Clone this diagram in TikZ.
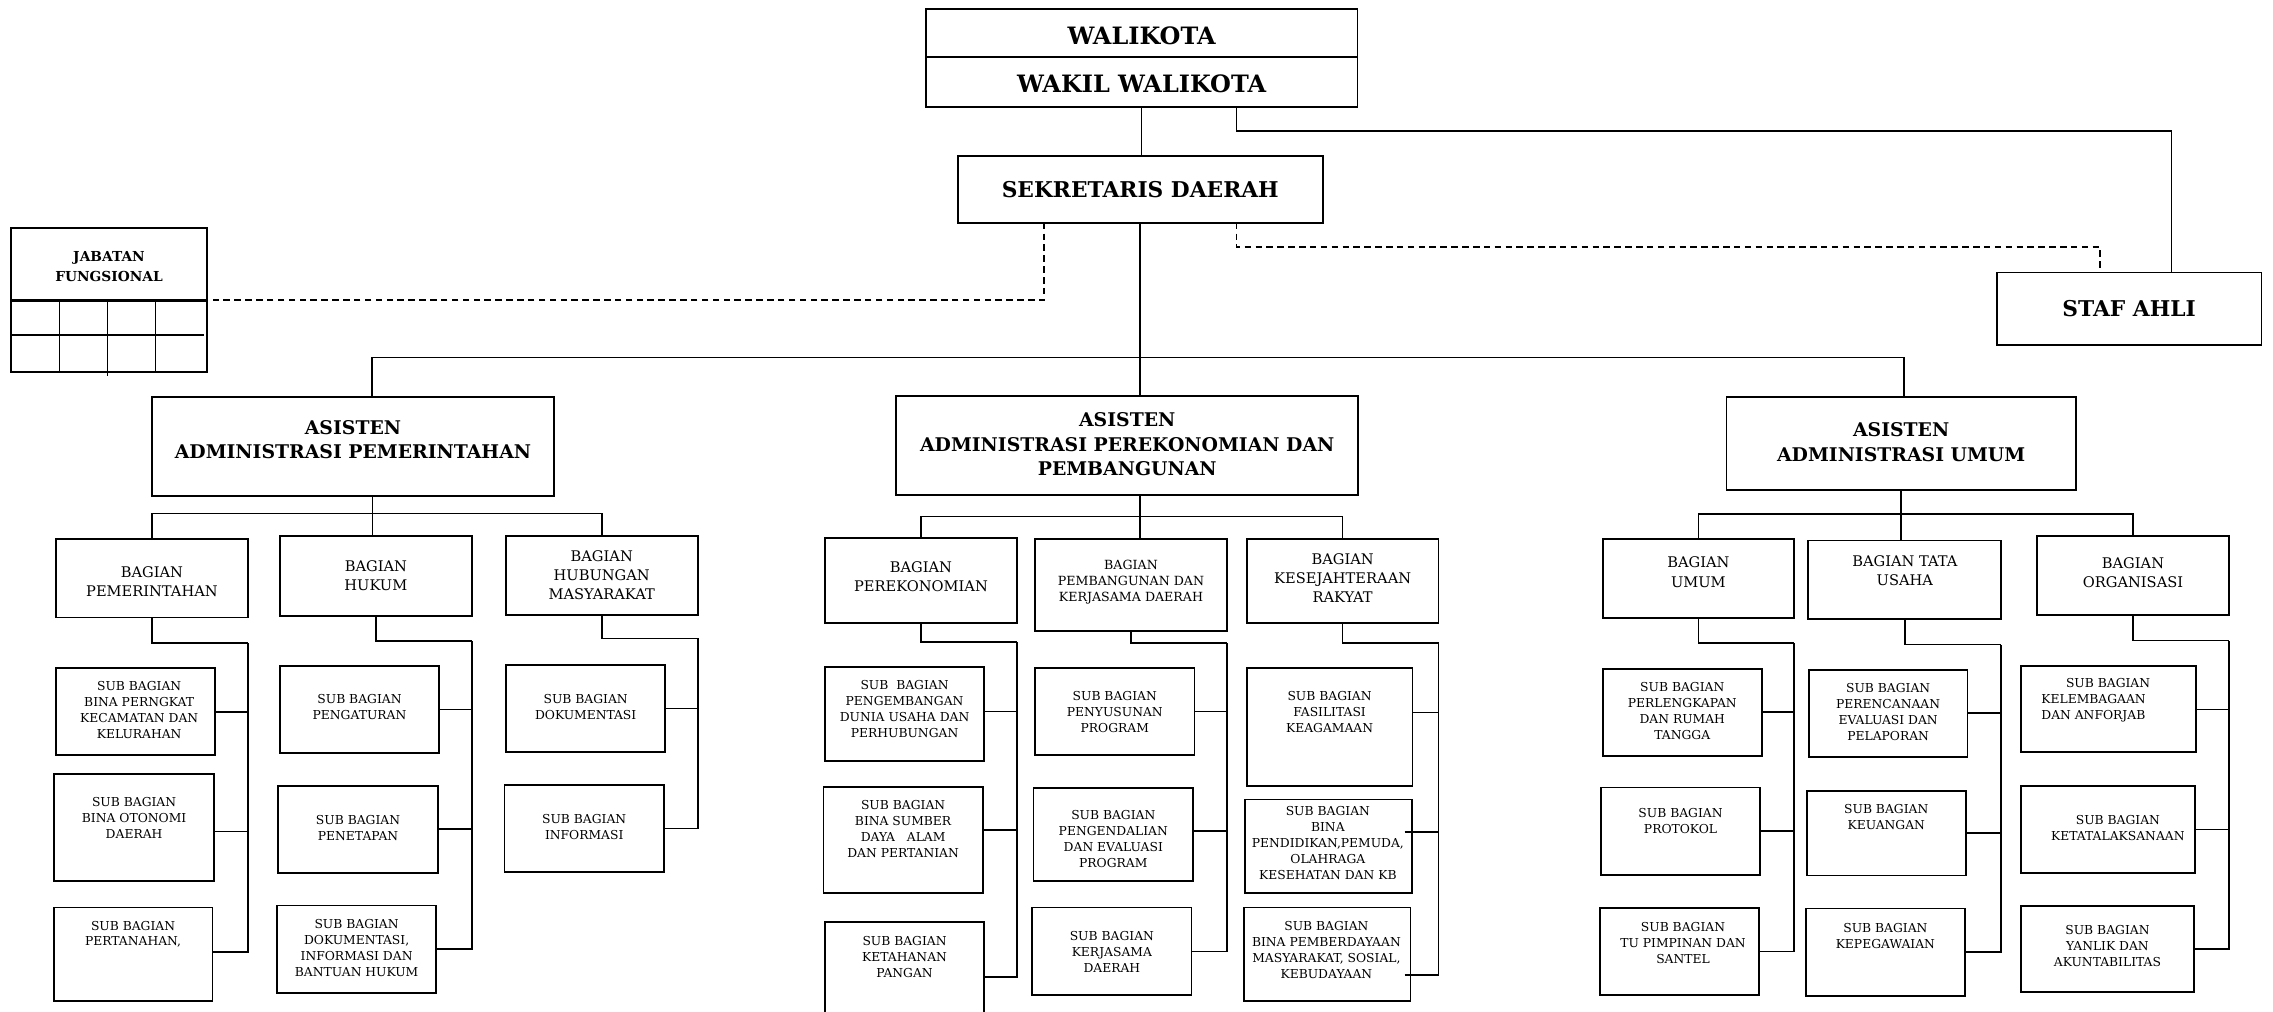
\documentclass[tikz,border=0pt]{standalone}
\usepackage{fontspec}
\setmainfont{DejaVu Serif}
\usetikzlibrary{fit,calc}
\tikzset{
  box/.style={draw, line width=1.2pt, inner sep=0pt, outer sep=0pt},
  conn/.style={line width=1.1pt},
  dashline/.style={line width=1.1pt, dash pattern=on 4.5pt off 3pt},
  toptxt/.style={align=center, inner sep=0pt, font=\bfseries\fontsize{16.5}{20}\selectfont},
  midtxt/.style={align=center, inner sep=0pt, font=\bfseries\fontsize{15}{18}\selectfont},
  asttxt/.style={align=center, inner sep=0pt, font=\bfseries\fontsize{13}{17}\selectfont},
  jftxt/.style={align=center, inner sep=0pt, font=\bfseries\fontsize{9.5}{14}\selectfont},
  bagtxt/.style={align=center, inner sep=0pt, font=\fontsize{10.1}{13.2}\selectfont},
  smbtxt/.style={align=center, inner sep=0pt, font=\fontsize{8.7}{10.8}\selectfont},
  subtxt/.style={align=center, inner sep=0pt, font=\fontsize{8.5}{11}\selectfont},
  subtxtl/.style={align=left, anchor=west, inner sep=0pt, font=\fontsize{8.5}{11}\selectfont},
}
\newcommand\obox[8]{%
  \node[box, fit={(#2,#3) (#4,#5)}] (#1) {};
  \node[#6] (#1t) at (#7) {#8};}
\begin{document}
\begin{tikzpicture}[x=1pt,y=-1pt]
\fill[white] (0,0) rectangle (1568,698);
\clip (0,0) rectangle (1568,698);

% ---------- top level ----------
\obox{wk}{638.6}{6.2}{936.4}{74}{toptxt}{787.5,24.5}{WALIKOTA}
\node[toptxt] (wk2) at (787.5,58) {WAKIL WALIKOTA};
\draw[line width=1.2pt] (638.6,39.5) -- (936.4,39.5);
\obox{sd}{660.6}{107.4}{912.6}{153.6}{midtxt}{786.6,130.5}{SEKRETARIS DAERAH}
\obox{sa}{1377.5}{188}{1560}{238}{midtxt}{1468.7,213}{STAF AHLI}
\obox{jf}{7.5}{157.5}{143}{256.4}{jftxt}{75.2,184}{JABATAN\\FUNGSIONAL}
\draw[line width=2pt] (7.5,207) -- (143,207);
\draw[conn] (7.5,231) -- (141,231);
\draw[conn] (41,207) -- (41,256.4);
\draw[conn] (74.2,207) -- (74.2,259.5);
\draw[conn] (107.3,207) -- (107.3,256.4);

% ---------- asisten ----------
\obox{a1}{104.7}{273.8}{382.2}{342}{asttxt}{243.5,303.3}{ASISTEN\\ADMINISTRASI PEMERINTAHAN}
\obox{a2}{618.2}{273}{937}{341.6}{asttxt}{777.6,306.6}{ASISTEN\\ADMINISTRASI PEREKONOMIAN DAN\\PEMBANGUNAN}
\obox{a3}{1191}{273.8}{1432}{337.8}{asttxt}{1311.5,305}{ASISTEN\\ADMINISTRASI UMUM}

% ---------- bagian ----------
\obox{b11}{38.4}{372}{171.2}{426}{bagtxt}{104.8,401}{BAGIAN\\PEMERINTAHAN}
\obox{b12}{193}{370}{325.7}{425}{bagtxt}{259.3,397.2}{BAGIAN\\HUKUM}
\obox{b13}{348.8}{369.8}{481.5}{424}{bagtxt}{415.1,397}{BAGIAN\\HUBUNGAN\\MASYARAKAT}
\obox{b21}{569}{371}{701.6}{429.8}{bagtxt}{635.3,398}{BAGIAN\\PEREKONOMIAN}
\obox{b22}{713.9}{372}{846.5}{435.4}{smbtxt}{780.2,401.6}{BAGIAN\\PEMBANGUNAN DAN\\KERJASAMA DAERAH}
\obox{b23}{860}{372}{992.4}{429.8}{bagtxt}{926.2,399}{BAGIAN\\KESEJAHTERAAN\\RAKYAT}
\obox{b31}{1105.6}{372}{1237.7}{426.4}{bagtxt}{1171.6,394.7}{BAGIAN\\UMUM}
\obox{b32}{1247.4}{372.8}{1380.5}{427}{bagtxt}{1314,393.5}{BAGIAN TATA\\USAHA}
\obox{b33}{1405}{370}{1537.7}{424.4}{bagtxt}{1471.4,395}{BAGIAN\\ORGANISASI}

% ---------- sub bagian ----------
\obox{s111}{38.4}{461}{148.5}{521}{subtxt}{96,490}{SUB BAGIAN\\BINA PERNGKAT\\KECAMATAN DAN\\KELURAHAN}
\obox{s112}{37.5}{534}{147.5}{607.7}{subtxt}{92.5,564}{SUB BAGIAN\\BINA OTONOMI\\DAERAH}
\obox{s113}{37}{626}{146.6}{690.6}{subtxt}{91.8,644.5}{SUB BAGIAN\\PERTANAHAN,}
\obox{s121}{193}{459.4}{303}{519.5}{subtxt}{248,488}{SUB BAGIAN\\PENGATURAN}
\obox{s122}{192}{542}{302}{602}{subtxt}{247,571}{SUB BAGIAN\\PENETAPAN}
\obox{s123}{191}{624.6}{301}{685}{subtxt}{246,654.2}{SUB BAGIAN\\DOKUMENTASI,\\INFORMASI DAN\\BANTUAN HUKUM}
\obox{s131}{349}{458.8}{458.8}{518.6}{subtxt}{404,488}{SUB BAGIAN\\DOKUMENTASI}
\obox{s132}{348}{541.4}{458}{601.5}{subtxt}{403,570.5}{SUB BAGIAN\\INFORMASI}

\obox{s211}{569}{460}{679}{525}{subtxt}{624,489}{SUB\ \ BAGIAN\\PENGEMBANGAN\\DUNIA USAHA DAN\\PERHUBUNGAN}
\obox{s212}{568}{543}{678}{616}{subtxt}{623,571.8}{SUB BAGIAN\\BINA SUMBER\\DAYA\ \ \ ALAM\\DAN PERTANIAN}
\obox{s213}{569}{636}{679}{706}{subtxt}{624,660}{SUB BAGIAN\\KETAHANAN\\PANGAN}
\obox{s221}{714}{460.8}{824}{521}{subtxt}{769,491}{SUB BAGIAN\\PENYUSUNAN\\PROGRAM}
\obox{s222}{713}{543.6}{823}{607.8}{subtxt}{768,578.8}{SUB BAGIAN\\PENGENDALIAN\\DAN EVALUASI\\PROGRAM}
\obox{s223}{712}{626}{822}{686.5}{subtxt}{767,656.6}{SUB BAGIAN\\KERJASAMA\\DAERAH}
\obox{s231}{860}{460.8}{974.4}{542}{subtxt}{917.2,491}{SUB BAGIAN\\FASILITASI\\KEAGAMAAN}
\obox{s232}{859}{551.5}{974}{616}{subtxt}{916,581.6}{SUB BAGIAN\\BINA\\PENDIDIKAN,PEMUDA,\\OLAHRAGA\\KESEHATAN DAN KB}
\obox{s233}{858}{626}{973}{690.6}{subtxt}{915,655.3}{SUB BAGIAN\\BINA PEMBERDAYAAN\\MASYARAKAT, SOSIAL,\\KEBUDAYAAN}

\obox{s311}{1105.6}{461.3}{1215.3}{521.4}{subtxt}{1160.5,490.6}{SUB BAGIAN\\PERLENGKAPAN\\DAN RUMAH\\TANGGA}
\obox{s312}{1104.3}{543.3}{1214.3}{603.4}{subtxt}{1159.3,566.5}{SUB BAGIAN\\PROTOKOL}
\obox{s313}{1103.6}{626.3}{1213.6}{686.4}{subtxt}{1161,650.6}{SUB BAGIAN\\TU PIMPINAN DAN\\SANTEL}
\obox{s321}{1247.8}{462}{1357.2}{522}{subtxt}{1302.5,491.2}{SUB BAGIAN\\PERENCANAAN\\EVALUASI DAN\\PELAPORAN}
\obox{s322}{1246.5}{545.5}{1356}{603.9}{subtxt}{1301.2,563.3}{SUB BAGIAN\\KEUANGAN}
\obox{s323}{1245.8}{626.8}{1355.5}{686.9}{subtxt}{1300.6,646}{SUB BAGIAN\\KEPEGAWAIAN}
\obox{s331}{1394}{459.6}{1515}{519}{subtxtl}{1408,483.1}{\hspace*{17pt}SUB BAGIAN\\KELEMBAGAAN\\DAN ANFORJAB}
\obox{s332}{1394}{542.3}{1514}{602}{subtxt}{1461,571}{SUB BAGIAN\\KETATALAKSANAAN}
\obox{s333}{1394}{625}{1513.5}{684.5}{subtxt}{1453.8,652.8}{SUB BAGIAN\\YANLIK DAN\\AKUNTABILITAS}

% ---------- top connectors ----------
\draw[conn] (wk.south) -- (wk.south |- sd.north);
\coordinate (wkr) at ([xshift=65.4pt]wk.south);
\draw[conn] (wkr) -- ++(0,16.4) -| ([xshift=29.3pt]sa.north);
\coordinate (sdl) at ([xshift=-66.3pt]sd.south);
\draw[dashline] (sdl) |- (jf.east);
\coordinate (sdr) at ([xshift=66.3pt]sd.south);
\draw[dashline] (sdr) -- ++(0,16.8) -| ([xshift=-20pt]sa.north);
\draw[conn] (sd.south) -- (sd.south |- a2.north);
\coordinate (a1n) at ([xshift=13pt]a1.north);
\draw[conn] (a1n) -- ++(0,-27.1) -| ([xshift=2pt]a3.north);

% ---------- asisten to bagian ----------
\coordinate (a1s) at ([xshift=13.5pt]a1.south);
\draw[conn] (a1s) -- (a1s |- b12.north);
\draw[conn] (b11.north) -- ++(0,-17.8) -| (b13.north);
\draw[conn] (sd.south |- a2.south) -- (sd.south |- b22.north);
\draw[conn] (b21.north) -- ++(0,-14.8) -| (b23.north);
\draw[conn] (a3.south) -- (a3.south |- b32.north);
\draw[conn] (b31.north) -- ++(0,-17.5) -| (b33.north);

% ---------- bagian spines and stubs ----------
\coordinate (c11) at ([yshift=-17.6pt]b11.south east);
\draw[conn] (b11.south) |- (c11);
\draw[conn] (s111.east) -| (c11);
\draw[conn] ([yshift=-2.8pt]s112.east) -| (c11);
\draw[conn] ([yshift=1.7pt]s113.east) -| (c11);

\coordinate (c12) at ([yshift=-17pt]b12.south east);
\draw[conn] (b12.south) |- (c12);
\draw[conn] (s121.east) -| (c12);
\draw[conn] (s122.east) -| (c12);
\draw[conn] (s123.east) -| (c12);

\coordinate (c13) at ([yshift=-16.4pt]b13.south east);
\draw[conn] (b13.south) |- (c13);
\draw[conn] (s131.east) -| (c13);
\draw[conn] (s132.east) -| (c13);

\coordinate (c21) at ([yshift=-13.2pt]b21.south east);
\draw[conn] (b21.south) |- (c21);
\draw[conn] ([yshift=1.7pt]s211.east) -| (c21);
\draw[conn] ([yshift=6.9pt]s212.east) -| (c21);
\draw[conn] ([yshift=-3pt]s213.east) -| (c21);

\coordinate (c22) at ([yshift=-8.1pt]b22.south east);
\draw[conn] (b22.south) |- (c22);
\draw[conn] (s221.east) -| (c22);
\draw[conn] ([yshift=2.3pt]s222.east) -| (c22);
\draw[conn] (s223.east) -| (c22);

\coordinate (c23) at ([yshift=-13.7pt]b23.south east);
\draw[conn] (b23.south) |- (c23);
\draw[conn] ([yshift=9.8pt]s231.east) -| (c23);
\draw[conn] ([xshift=-5pt,yshift=10pt]s232.east) -| (c23);
\draw[conn] ([xshift=-4pt,yshift=-14.2pt]s233.east) -| (c23);

\coordinate (c31) at ([yshift=-17.1pt]b31.south east);
\draw[conn] (b31.south) |- (c31);
\draw[conn] (s311.east) -| (c31);
\draw[conn] (s312.east) -| (c31);
\draw[conn] (s313.east) -| (c31);

\coordinate (c32) at ([yshift=-17.6pt]b32.south east);
\draw[conn] (b32.south) |- (c32);
\draw[conn] (s321.east) -| (c32);
\draw[conn] (s322.east) -| (c32);
\draw[conn] (s323.east) -| (c32);

\coordinate (c33) at ([yshift=-17.5pt]b33.south east);
\draw[conn] (b33.south) |- (c33);
\draw[conn] (s331.east) -| (c33);
\draw[conn] (s332.east) -| (c33);
\draw[conn] (s333.east) -| (c33);
\end{tikzpicture}
\end{document}
